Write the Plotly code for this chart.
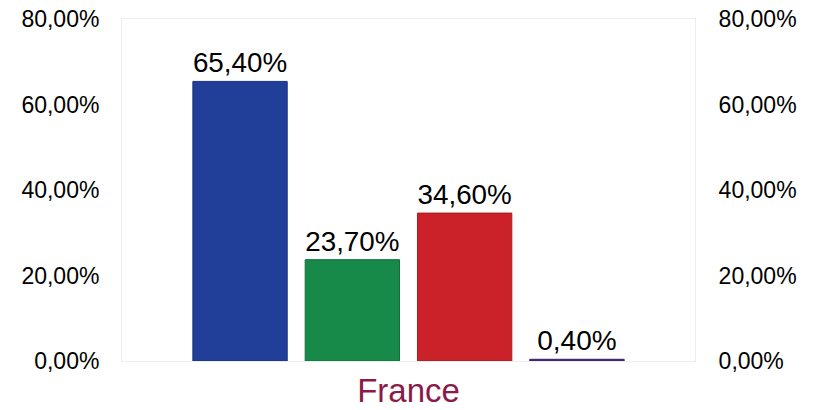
import plotly.graph_objects as go

categories = ["France"]
series_names = ["S1", "S2", "S3", "S4"]
series_values = [0.654, 0.237, 0.346, 0.004]
series_colors = ["#213F98", "#178A4A", "#CB2229", "#4A2C7C"]
border_colors = ["#1A3380", "#0F6E3A", "#A81B20", "#3A1F66"]
tick_vals = [0, 0.2, 0.4, 0.6, 0.8]

FONT = "Liberation Sans, Arial"

fig = go.Figure()
for name, v, c, bc in zip(series_names, series_values, series_colors, border_colors):
    fig.add_trace(go.Bar(
        x=categories, y=[v], name=name,
        marker=dict(color=c, line=dict(color=bc, width=1)),
        text=[v], texttemplate="%{y:.2%}", textposition="outside",
        textfont=dict(size=28, color="#000000", family=FONT),
        cliponaxis=False,
    ))
# invisible trace to activate right axis
fig.add_trace(go.Scatter(x=categories, y=[0], yaxis="y2", mode="markers",
                         marker=dict(opacity=0), showlegend=False, hoverinfo="skip"))

fig.update_layout(
    width=814, height=410,
    margin=dict(l=122, r=119, t=19, b=49),
    separators=",.",
    barmode="group", bargap=0.216, bargroupgap=0.16,
    showlegend=False,
    paper_bgcolor="white", plot_bgcolor="white",
    font=dict(family=FONT, size=23, color="#000000"),
    xaxis=dict(tickfont=dict(size=33, color="#8B1A4B"), showgrid=False,
               showline=True, mirror=True, linecolor="#EEEEEE", linewidth=1,
               ticks="", automargin=False),
    yaxis=dict(range=[0, 0.8], tickvals=tick_vals, tickformat=".2%",
               showgrid=False, zeroline=False, showline=True, mirror=True,
               linecolor="#EEEEEE", linewidth=1, ticks="outside", ticklen=17,
               tickcolor="rgba(0,0,0,0)", tickfont=dict(size=23),
               automargin=False),
    yaxis2=dict(range=[0, 0.8], tickvals=tick_vals, tickformat=".2%",
                overlaying="y", side="right", showgrid=False, zeroline=False,
                showline=False, ticks="outside", ticklen=18,
                tickcolor="rgba(0,0,0,0)", tickfont=dict(size=23),
                automargin=False),
)
fig.write_html(
    "out.html",
    config={"displayModeBar": False},
    post_script="document.body.style.margin='0';document.body.style.overflow='hidden';",
)
